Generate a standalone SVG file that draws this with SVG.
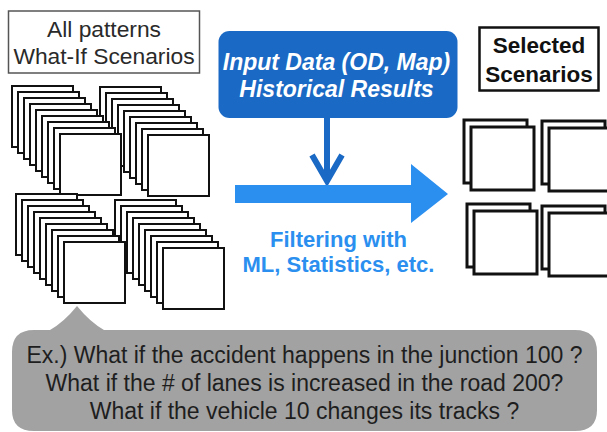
<svg xmlns="http://www.w3.org/2000/svg" xmlns:xlink="http://www.w3.org/1999/xlink" width="607" height="432" viewBox="0 0 607 432">
<style>
.card{fill:#fff;stroke:#111;stroke-width:2}
.sel{fill:#fff;stroke:#111;stroke-width:3}
.t{font-family:"Liberation Sans",Arial,sans-serif;text-anchor:middle}
.lbl{font-size:22.8px;fill:#2a2a2a}
.blue{font-size:23px;font-weight:bold;font-style:italic;fill:#fff}
.filt{font-size:22px;font-weight:bold;fill:#2b8ff0}
.selt{font-size:22.5px;font-weight:bold;fill:#111}
.ex{font-size:23px;fill:#1e1e1e}
</style>
<defs>
<rect id="c" class="card" width="61" height="61"/>
<g id="stack9">
<use xlink:href="#c" x="0" y="0"/><use xlink:href="#c" x="6" y="6"/><use xlink:href="#c" x="12" y="12"/>
<use xlink:href="#c" x="18" y="18"/><use xlink:href="#c" x="24" y="24"/><use xlink:href="#c" x="30" y="30"/>
<use xlink:href="#c" x="36" y="36"/><use xlink:href="#c" x="42" y="42"/><use xlink:href="#c" x="48" y="48"/>
</g>
<rect id="s" class="sel" width="63" height="63"/>
<g id="pair"><use xlink:href="#s" x="0" y="0"/><use xlink:href="#s" x="7" y="7"/></g>
</defs>
<rect width="607" height="432" fill="#fff"/>

<g id="all-patterns-label">
<rect x="8.5" y="11" width="191" height="62" fill="#fff" stroke="#555" stroke-width="1.5"/>
<text class="t lbl" x="104" y="37">All patterns</text>
<text class="t lbl" x="104" y="64">What-If Scenarios</text>
</g>

<g id="all-patterns-stacks">
<use xlink:href="#stack9" x="100" y="87"/>
<use xlink:href="#stack9" x="12" y="86"/>
<use xlink:href="#stack9" x="115" y="200"/>
<use xlink:href="#stack9" x="16" y="194"/>
</g>

<g id="input-data">
<rect x="218.5" y="31" width="239" height="87" rx="11" fill="#1a69c4"/>
<text class="t blue" x="336.5" y="70">Input Data (OD, Map)</text>
<text class="t blue" x="336.5" y="97">Historical Results</text>
</g>

<g id="selected-label">
<rect x="479.5" y="27.5" width="119" height="63" fill="#fff" stroke="#111" stroke-width="2.5"/>
<text class="t selt" x="539" y="53">Selected</text>
<text class="t selt" x="539" y="82">Scenarios</text>
</g>

<g id="selected-cards">
<use xlink:href="#pair" x="464" y="120"/>
<use xlink:href="#pair" x="542" y="121"/>
<use xlink:href="#pair" x="467" y="204"/>
<use xlink:href="#pair" x="542" y="206"/>
</g>

<g id="connectors">
<line x1="327" y1="117" x2="327" y2="180" stroke="#1a69c4" stroke-width="6"/>
<polyline points="312,155 327,181 342,155" fill="none" stroke="#1a69c4" stroke-width="6" stroke-linejoin="miter"/>
<polygon points="235,185 411,185 411,164 448,194 411,223 411,203 235,203" fill="#2b8ff0"/>
</g>

<g id="filter-label">
<text class="t filt" x="338.5" y="247">Filtering with</text>
<text class="t filt" x="338.5" y="272">ML, Statistics, etc.</text>
</g>

<g id="example-callout">
<path d="M 34 330 L 50 330 Q 64 322 77 306 Q 90 322 104 330 L 575 330 Q 597 330 597 352 L 597 410 Q 597 431 575 431 L 34 431 Q 12 431 12 410 L 12 352 Q 12 330 34 330 Z" fill="#a2a2a2"/>
<text class="t ex" x="304.5" y="363">Ex.) What if the accident happens in the junction 100 ?</text>
<text class="t ex" x="304.5" y="391">What if the # of lanes is increased in the road 200?</text>
<text class="t ex" x="304.5" y="419">What if the vehicle 10 changes its tracks ?</text>
</g>
</svg>
